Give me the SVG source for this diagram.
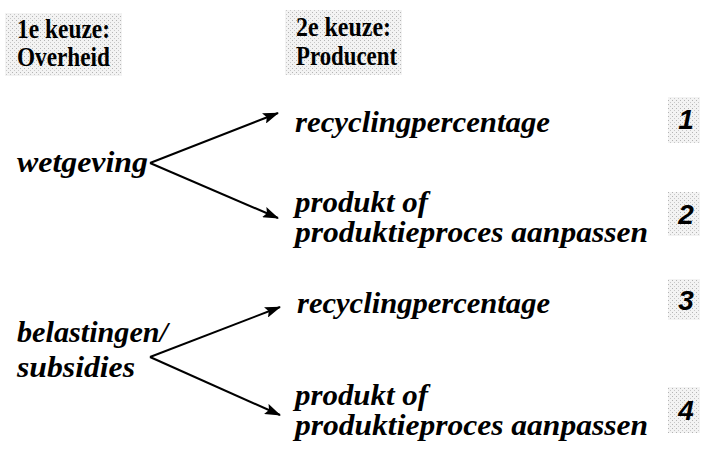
<svg xmlns="http://www.w3.org/2000/svg" width="702" height="449" viewBox="0 0 702 449">
  <defs>
    <!-- light halftone screen used behind headers and numbers -->
    <pattern id="screen" width="4" height="4" patternUnits="userSpaceOnUse">
      <rect width="4" height="4" fill="#f3f3f3"/>
      <rect x="0" y="0" width="1" height="1" fill="#b4b4b4"/>
      <rect x="2" y="2" width="1" height="1" fill="#c8c8c8"/>
    </pattern>
    <marker id="arrow" markerWidth="16" markerHeight="11" refX="15" refY="5.5" orient="auto" markerUnits="userSpaceOnUse">
      <path d="M0,0 L16,5.5 L0,11 L3,5.5 Z" fill="#000"/>
    </marker>
    <style>
      .screen { fill: url(#screen); }
      .head { font-family: "Liberation Serif", "Times New Roman", serif; font-weight: bold; font-size: 27px; fill: #000; }
      .item { font-family: "Liberation Serif", "Times New Roman", serif; font-weight: bold; font-style: italic; font-size: 30px; fill: #000; }
      .num { font-family: "Liberation Sans", Arial, sans-serif; font-weight: bold; font-style: italic; font-size: 28px; fill: #000; text-anchor: middle; }
      .edge { stroke: #000; stroke-width: 2; fill: none; marker-end: url(#arrow); }
    </style>
  </defs>
  <rect width="702" height="449" fill="#fff"/>

  <!-- column headers -->
  <g id="header-overheid">
    <rect class="screen" x="5" y="13" width="117" height="63"/>
    <text class="head" x="17" y="38" textLength="93" lengthAdjust="spacingAndGlyphs">1e keuze:</text>
    <text class="head" x="17" y="66" textLength="93" lengthAdjust="spacingAndGlyphs">Overheid</text>
  </g>
  <g id="header-producent">
    <rect class="screen" x="285" y="10" width="117" height="65"/>
    <text class="head" x="296" y="36" textLength="95" lengthAdjust="spacingAndGlyphs">2e keuze:</text>
    <text class="head" x="296" y="65" textLength="101" lengthAdjust="spacingAndGlyphs">Producent</text>
  </g>

  <!-- first choice -->
  <g id="wetgeving">
    <text class="item" x="17" y="172" textLength="131" lengthAdjust="spacingAndGlyphs">wetgeving</text>
  </g>
  <g id="belastingen">
    <text class="item" x="17" y="342" textLength="151" lengthAdjust="spacingAndGlyphs">belastingen/</text>
    <text class="item" x="17" y="377" textLength="118" lengthAdjust="spacingAndGlyphs">subsidies</text>
  </g>

  <!-- second choice -->
  <g id="option-1">
    <text class="item" x="295" y="132" textLength="255" lengthAdjust="spacingAndGlyphs">recyclingpercentage</text>
  </g>
  <g id="option-2">
    <text class="item" x="295" y="212" textLength="133" lengthAdjust="spacingAndGlyphs">produkt of</text>
    <text class="item" x="295" y="242" textLength="353" lengthAdjust="spacingAndGlyphs">produktieproces aanpassen</text>
  </g>
  <g id="option-3">
    <text class="item" x="297" y="313" textLength="253" lengthAdjust="spacingAndGlyphs">recyclingpercentage</text>
  </g>
  <g id="option-4">
    <text class="item" x="295" y="405" textLength="133" lengthAdjust="spacingAndGlyphs">produkt of</text>
    <text class="item" x="295" y="435" textLength="353" lengthAdjust="spacingAndGlyphs">produktieproces aanpassen</text>
  </g>

  <!-- outcome numbers -->
  <g id="num-1">
    <rect class="screen" x="668" y="97" width="32" height="46"/>
    <text class="num" x="686" y="129">1</text>
  </g>
  <g id="num-2">
    <rect class="screen" x="668" y="192" width="32" height="44"/>
    <text class="num" x="686" y="224">2</text>
  </g>
  <g id="num-3">
    <rect class="screen" x="668" y="279" width="32" height="41"/>
    <text class="num" x="686" y="310">3</text>
  </g>
  <g id="num-4">
    <rect class="screen" x="668" y="387" width="32" height="46"/>
    <text class="num" x="686" y="420">4</text>
  </g>

  <!-- connectors -->
  <g id="connectors">
    <line class="edge" x1="150" y1="163" x2="278" y2="113"/>
    <line class="edge" x1="150" y1="163" x2="278" y2="218"/>
    <line class="edge" x1="150" y1="357" x2="280" y2="307"/>
    <line class="edge" x1="150" y1="357" x2="280" y2="415"/>
  </g>
</svg>
